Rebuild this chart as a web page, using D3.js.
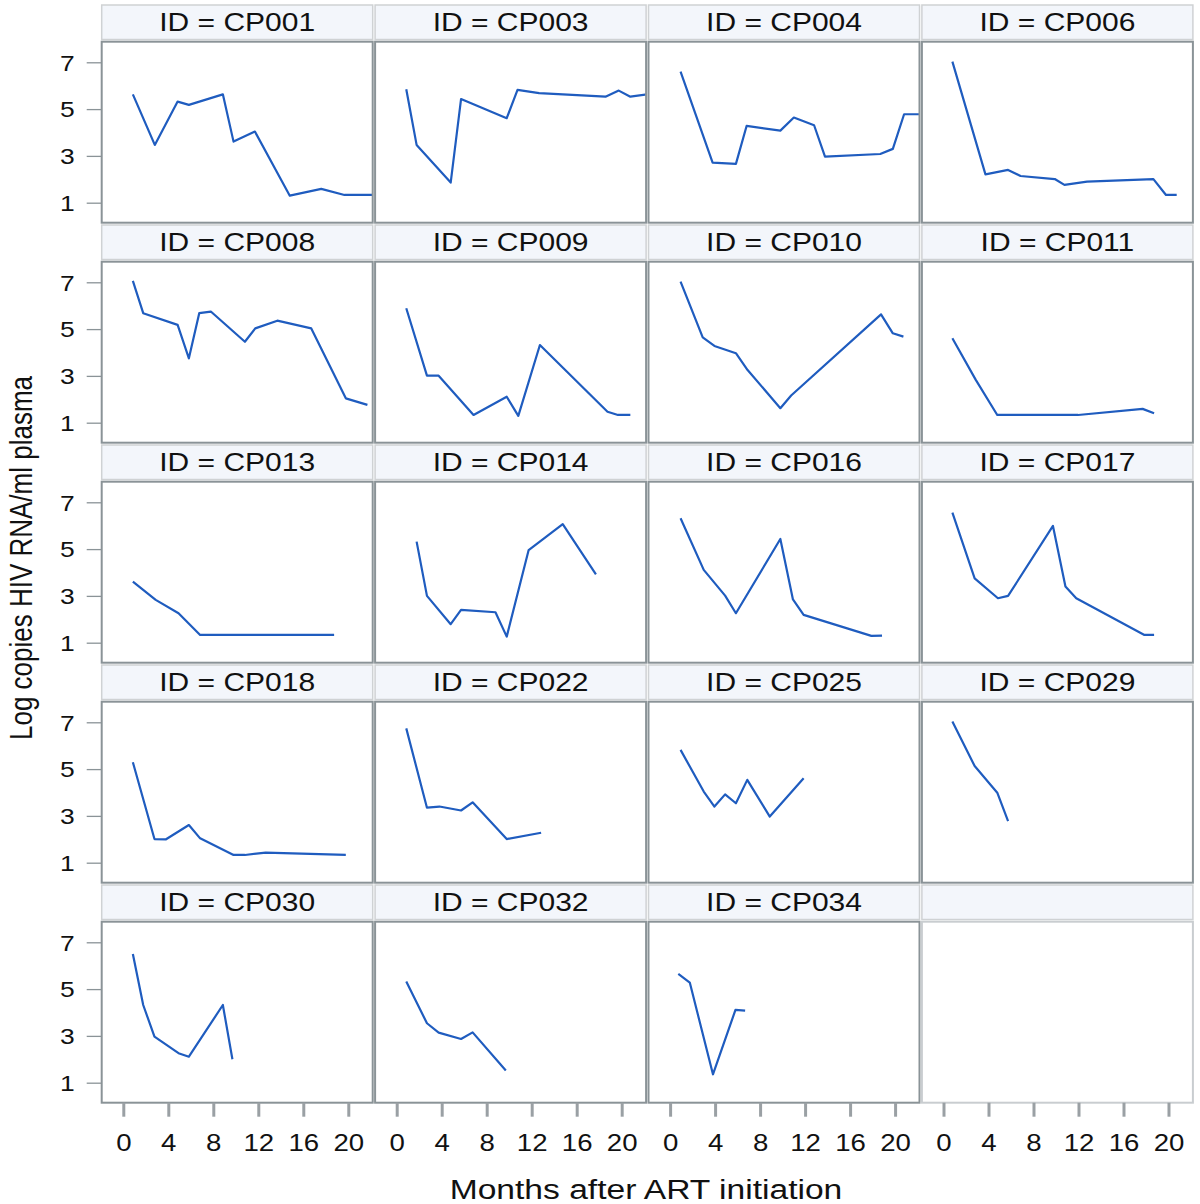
<!DOCTYPE html>
<html><head><meta charset="utf-8">
<script src="https://cdn.jsdelivr.net/npm/d3@7"></script>
<style>html,body{margin:0;padding:0;background:#fff;}svg{display:block;}</style>
</head><body>
<svg id="chart" width="1200" height="1204"></svg>
<script>
// ---- data (months after ART initiation, log copies HIV RNA/ml plasma) ----
const ids = ["CP001","CP003","CP004","CP006","CP008","CP009","CP010","CP011","CP013","CP014","CP016","CP017","CP018","CP022","CP025","CP029","CP030","CP032","CP034"];
const CP001 = [[0.85,5.63],[2.8,3.47],[4.83,5.32],[5.83,5.18],[8.85,5.63],[9.8,3.61],[11.7,4.04],[14.8,1.30],[17.6,1.59],[19.66,1.33],[22.6,1.33]];
const CP003 = [[0.85,5.85],[1.77,3.47],[4.8,1.86],[5.72,5.43],[9.78,4.61],[10.74,5.82],[12.66,5.68],[18.56,5.53],[19.74,5.79],[20.77,5.53],[22.6,5.65]];
const CP004 = [[0.93,6.6],[3.78,2.71],[5.85,2.66],[6.8,4.28],[9.8,4.08],[11.0,4.64],[12.8,4.31],[13.77,2.97],[18.68,3.08],[19.8,3.30],[20.8,4.78],[22.6,4.78]];
const CP006 = [[0.79,7.03],[3.73,2.21],[5.74,2.40],[6.85,2.14],[9.89,2.01],[10.75,1.76],[12.76,1.90],[18.66,2.01],[19.78,1.33],[20.73,1.33]];
const CP008 = [[0.85,7.06],[1.77,5.68],[4.83,5.18],[5.83,3.75],[6.75,5.68],[7.78,5.75],[10.81,4.46],[11.73,5.03],[13.69,5.36],[16.71,5.03],[19.78,2.04],[21.7,1.76]];
const CP009 = [[0.85,5.89],[2.69,3.01],[3.73,3.01],[6.83,1.33],[9.78,2.11],[10.81,1.29],[12.73,4.32],[18.74,1.47],[19.67,1.33],[20.77,1.33]];
const CP010 = [[0.93,7.03],[2.9,4.65],[3.94,4.28],[5.85,3.97],[6.89,3.25],[9.8,1.62],[10.76,2.16],[18.75,5.63],[19.8,4.82],[20.74,4.68]];
const CP011 = [[0.79,4.61],[2.87,2.83],[4.78,1.33],[11.96,1.33],[17.7,1.59],[18.72,1.40]];
const CP013 = [[0.85,3.61],[2.88,2.83],[4.91,2.26],[6.83,1.33],[18.74,1.33]];
const CP014 = [[1.77,5.32],[2.69,3.0],[4.8,1.79],[5.72,2.4],[8.78,2.3],[9.78,1.26],[11.73,4.96],[14.76,6.07],[17.71,3.92]];
const CP016 = [[0.93,6.32],[2.99,4.11],[4.89,3.01],[5.85,2.26],[9.8,5.43],[10.92,2.85],[11.87,2.19],[17.89,1.29],[18.84,1.30]];
const CP017 = [[0.79,6.56],[2.77,3.75],[4.84,2.90],[5.74,3.0],[9.73,5.99],[10.84,3.40],[11.8,2.90],[17.86,1.33],[18.72,1.33]];
const CP018 = [[0.85,5.29],[2.77,2.01],[3.8,2.0],[5.83,2.61],[6.83,2.04],[9.8,1.33],[10.81,1.33],[12.66,1.43],[19.78,1.33]];
const CP022 = [[0.85,6.74],[2.69,3.35],[3.8,3.40],[5.72,3.23],[6.75,3.58],[9.78,2.01],[12.84,2.28]];
const CP025 = [[0.93,5.82],[2.99,4.04],[3.94,3.40],[4.89,3.92],[5.85,3.54],[6.86,4.54],[8.86,2.97],[11.87,4.61]];
const CP029 = [[0.79,7.03],[2.77,5.13],[4.78,3.99],[5.74,2.78]];
const CP030 = [[0.85,6.5],[1.77,4.32],[2.77,2.97],[4.91,2.26],[5.83,2.11],[8.85,4.32],[9.7,2.0]];
const CP032 = [[0.85,5.32],[2.69,3.54],[3.73,3.14],[5.72,2.87],[6.75,3.15],[9.7,1.52]];
const CP034 = [[0.73,5.65],[1.75,5.28],[3.81,1.36],[5.81,4.11],[6.67,4.08]];
const series = [CP001,CP003,CP004,CP006,CP008,CP009,CP010,CP011,CP013,CP014,CP016,CP017,CP018,CP022,CP025,CP029,CP030,CP032,CP034];
const xTicks = [0,4,8,12,16,20];
const yTicks = [1,3,5,7];
const xTitle = "Months after ART initiation";
const yTitle = "Log copies HIV RNA/ml plasma";

// ---- layout ----
const nCols = 4, nRows = 5;
const left0 = 101.7, colPitch = 273.4, pw = 271;
const top0 = 41.7, rowPitch = 220, ph = 181;
const headH = 34.5, headGap = 2.2;
const SX = 1.2; // horizontal stretch of glyphs in reference
const lineColor = "#1f5cbf";
const frameColor = "#8a9397";

const svg = d3.select("#chart");
const x = d3.scaleLinear().domain([-1.92, 22.17]).range([0, pw]);
const y = d3.scaleLinear().domain([0.145, 7.88]).range([ph, 0]);
const line = d3.line().x(d => x(d[0])).y(d => y(d[1]));

for (let i = 0; i < nCols * nRows; i++) {
  const r = Math.floor(i / nCols), c = i % nCols;
  const px = left0 + c * colPitch, py = top0 + r * rowPitch;
  const has = i < ids.length;
  const g = svg.append("g").attr("transform", `translate(${px},${py})`);
  // header
  g.append("rect").attr("x", 0).attr("y", -headH - headGap).attr("width", pw).attr("height", headH)
    .attr("fill", "#f3f6fb").attr("stroke", "#cfd2d4").attr("stroke-width", 1.5);
  if (has) {
    g.append("g").attr("transform", `translate(${pw/2},${-headGap - 8.5}) scale(${SX},1)`)
      .append("text").attr("text-anchor", "middle")
      .attr("font-family", "Liberation Sans, Arial, sans-serif").attr("font-size", 25).attr("fill", "#111")
      .text(`ID = ${ids[i]}`);
  }
  // clip + data line
  const cid = "clip" + i;
  g.append("clipPath").attr("id", cid).append("rect").attr("width", pw).attr("height", ph);
  if (has) {
    g.append("path").datum(series[i]).attr("clip-path", `url(#${cid})`)
      .attr("d", line).attr("fill", "none").attr("stroke", lineColor)
      .attr("stroke-width", 2.2).attr("stroke-linejoin", "round");
  }
  // frame
  g.append("rect").attr("width", pw).attr("height", ph).attr("fill", "none")
    .attr("stroke", has ? frameColor : "#c9cdd0").attr("stroke-width", 2);
  // y axis on first column
  if (c === 0) {
    const ay = g.append("g").call(d3.axisLeft(y).tickValues(yTicks).tickSize(15).tickPadding(0).tickFormat(d3.format("d")));
    ay.select(".domain").remove();
    ay.selectAll(".tick line").attr("stroke", frameColor).attr("stroke-width", 1.3);
    ay.selectAll(".tick text").attr("x", -27 / SX).attr("dy", "0.35em")
      .attr("transform", `scale(${SX},1)`)
      .attr("font-family", "Liberation Sans, Arial, sans-serif").attr("font-size", 22).attr("fill", "#111");
  }
  // x axis on bottom row
  if (r === nRows - 1) {
    const ax = g.append("g").attr("transform", `translate(0,${ph})`)
      .call(d3.axisBottom(x).tickValues(xTicks).tickSize(14).tickPadding(0).tickFormat(d3.format("d")));
    ax.select(".domain").remove();
    ax.selectAll(".tick line").attr("stroke", "#9aa0a4").attr("stroke-width", 3);
    ax.selectAll(".tick text").attr("y", 48).attr("dy", 0)
      .attr("transform", `scale(${SX},1)`)
      .attr("font-family", "Liberation Sans, Arial, sans-serif").attr("font-size", 23).attr("fill", "#111");
  }
}

// axis titles
svg.append("g").attr("transform", `translate(646,1199) scale(${SX},1)`)
  .append("text").attr("text-anchor", "middle")
  .attr("font-family", "Liberation Sans, Arial, sans-serif").attr("font-size", 28).attr("fill", "#111")
  .text(xTitle);
svg.append("g").attr("transform", `translate(32,558) scale(${SX},1) rotate(-90)`)
  .append("text").attr("text-anchor", "middle")
  .attr("font-family", "Liberation Sans, Arial, sans-serif").attr("font-size", 26).attr("fill", "#111")
  .text(yTitle);
</script>
</body></html>
